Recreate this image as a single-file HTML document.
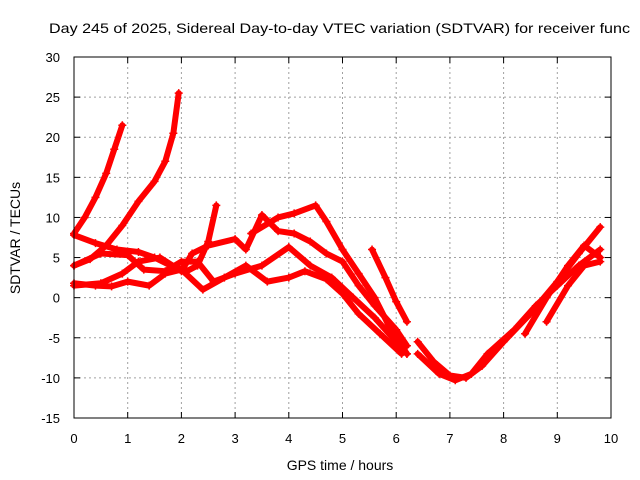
<!DOCTYPE html>
<html><head><meta charset="utf-8"><style>
body{margin:0;background:#fff;}
svg{display:block;font-family:"Liberation Sans",Arial,sans-serif;font-size:13px;}
</style></head><body>
<svg id="chart" width="640" height="480" viewBox="0 0 640 480">
<rect width="640" height="480" fill="#fff"/>
<text x="49" y="33" font-size="14" textLength="581" lengthAdjust="spacingAndGlyphs">Day 245 of 2025, Sidereal Day-to-day VTEC variation (SDTVAR) for receiver func</text>
<g id="grid"></g>
<g id="series"></g>
<rect x="74" y="57" width="537" height="361" fill="none" stroke="#000" stroke-width="1"/>
<g id="ticks"></g>
<text x="340" y="470" text-anchor="middle" font-size="14">GPS time / hours</text>
<text transform="translate(20,238) rotate(-90)" text-anchor="middle" font-size="14">SDTVAR / TECUs</text>
</svg>
<script>
const xTicks=[0,1,2,3,4,5,6,7,8,9,10];
const yTicks=[-15,-10,-5,0,5,10,15,20,25,30];
const trackAh=[0,0.2,0.4,0.6,0.75,0.9];
const trackAv=[8,10,12.5,15.5,18.5,21.5];
const trackBh=[0,0.3,0.6,0.9,1.2,1.5,1.7,1.85,1.95];
const trackBv=[4,4.8,6.5,9,12,14.5,17,20.5,25.5];
const trackCh=[0,0.4,0.8,1.2,1.5,1.8,2.1,2.3,2.5,2.65];
const trackCv=[7.8,6.8,6,5.7,5,4,3.3,4,7,11.5];
const trackDh=[0,0.5,0.9,1.2,1.6,2.0,2.2,2.5,3.0,3.2,3.5,3.8,4.1,4.4,4.7,5.0,5.3,5.6,6.0,6.2];
const trackDv=[1.5,1.8,3,4.5,5,3.3,5.5,6.5,7.3,6,10.3,8.3,8,7,5.5,4.5,1.5,-1,-4,-6];
const trackEh=[0,0.5,1.0,1.3,1.7,2.0,2.3,2.6,3.0,3.5,4.0,4.4,4.8,5.2,5.6,6.0,6.2];
const trackEv=[4,5.5,5.3,3.5,3.3,4.5,4.5,2,3,4,6.3,4,2.5,0,-2.5,-5.5,-7];
const trackFh=[0,0.4,0.7,1.0,1.4,1.7,2.0,2.4,2.8,3.2,3.6,4.0,4.3,4.7,5.0,5.3,5.7,6.1];
const trackFv=[1.8,1.5,1.4,2,1.5,3,3.5,1,2.5,4,2,2.5,3.3,2.3,0.5,-2,-4.5,-7];
const trackGh=[3.3,3.8,4.1,4.5,4.7,5.0,5.3,5.6,5.9,6.2];
const trackGv=[8,10,10.5,11.5,9.5,6,3,0,-4,-7];
const trackHh=[5.55,5.8,6.0,6.2];
const trackHv=[6,2.5,-0.5,-3];
const trackJh=[6.4,6.7,7.0,7.3,7.6,8.0,8.5,9.0,9.4,9.8];
const trackJv=[-5.5,-8,-9.7,-10,-8.5,-5.5,-2,2,5.5,8.8];
const trackKh=[6.4,6.8,7.1,7.4,7.7,8.2,8.6,9.0,9.4,9.8];
const trackKv=[-7,-9.5,-10.3,-9.5,-7,-4,-1,1.5,4,6];
const trackLh=[8.4,8.8,9.2,9.5,9.8];
const trackLv=[-4.5,0,4,6.5,5];
const trackMh=[8.8,9.2,9.5,9.8];
const trackMv=[-3,1.5,4,4.5];

const tracks=[[trackAh,trackAv],[trackBh,trackBv],[trackCh,trackCv],[trackDh,trackDv],[trackEh,trackEv],[trackFh,trackFv],[trackGh,trackGv],[trackHh,trackHv],[trackJh,trackJv],[trackKh,trackKv],[trackLh,trackLv],[trackMh,trackMv]];
const X0=74,X1=611,Y0=418,Y1=57;
function xs(h){return X0+(h-0)/(10-0)*(X1-X0);}
function ys(v){return Y0-(v+15)/(30+15)*(Y0-Y1);}
const NS="http://www.w3.org/2000/svg";
const grid=document.getElementById('grid'),ticks=document.getElementById('ticks'),ser=document.getElementById('series');
function mk(tag,attrs,parent){const e=document.createElementNS(NS,tag);for(const k in attrs)e.setAttribute(k,attrs[k]);parent.appendChild(e);return e;}
xTicks.forEach(t=>{
  const x=xs(t);
  if(t>0&&t<10){const l=mk('line',{x1:x,x2:x,y1:Y1,y2:Y0,stroke:'#a0a0a0','stroke-dasharray':'2,3'},grid);
  
  }
  mk('line',{x1:x,x2:x,y1:Y0,y2:Y0-6,stroke:'#000'},ticks);
  mk('line',{x1:x,x2:x,y1:Y1,y2:Y1+6,stroke:'#000'},ticks);
  const tx=mk('text',{x:x,y:Y0+25,'text-anchor':'middle'},ticks);tx.textContent=t;
  
  
});
yTicks.forEach(t=>{
  const y=ys(t);
  if(t>-15&&t<30){const l=mk('line',{x1:X0,x2:X1,y1:y,y2:y,stroke:'#a0a0a0','stroke-dasharray':'2,3'},grid);
  
  }
  mk('line',{x1:X0,x2:X0+6,y1:y,y2:y,stroke:'#000'},ticks);
  mk('line',{x1:X1,x2:X1-6,y1:y,y2:y,stroke:'#000'},ticks);
  const tx=mk('text',{x:X0-14,y:y+5,'text-anchor':'end'},ticks);tx.textContent=t;
  
  
});
tracks.forEach((tr,i)=>{
  const pts=tr[0].map((h,j)=>xs(h)+','+ys(tr[1][j])).join(' ');
  const pl=mk('polyline',{points:pts,fill:'none',stroke:'#ff0000','stroke-width':6,'stroke-linejoin':'round','stroke-linecap':'round'},ser);
  
  
  tr[0].forEach((h,j)=>{
    const x=xs(h),y=ys(tr[1][j]);
    const p=mk('path',{d:`M${x-4},${y}H${x+4}M${x},${y-4}V${y+4}`,stroke:'#ff0000','stroke-width':1.5},ser);
    
    
  });
});
</script>
</body></html>
